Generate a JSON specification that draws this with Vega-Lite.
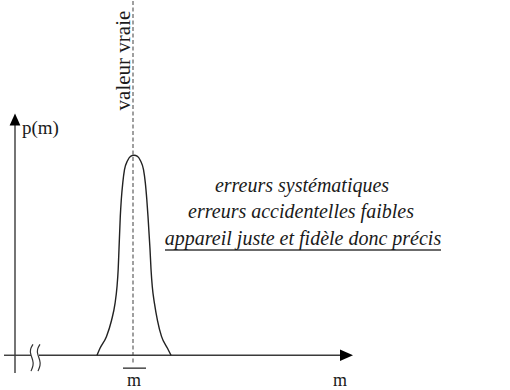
{
  "$schema": "https://vega.github.io/schema/vega-lite/v6.json",
  "width": 510,
  "height": 390,
  "padding": 0,
  "autosize": {"type": "fit", "contains": "padding"},
  "config": {"view": {"stroke": null}},
  "datasets": {
    "curve": [
      {"x": 97, "y": 33}, {"x": 100, "y": 40}, {"x": 106.5, "y": 52}, {"x": 111.5, "y": 68},
      {"x": 115, "y": 85}, {"x": 117, "y": 102}, {"x": 118.2, "y": 120}, {"x": 119, "y": 140},
      {"x": 120.3, "y": 173}, {"x": 121.3, "y": 190}, {"x": 122.8, "y": 207}, {"x": 124.5, "y": 220},
      {"x": 127.5, "y": 229}, {"x": 130.5, "y": 233.5}, {"x": 134, "y": 234.5},
      {"x": 137.5, "y": 233.5}, {"x": 140.5, "y": 229}, {"x": 143.5, "y": 220}, {"x": 145.3, "y": 207},
      {"x": 146.8, "y": 190}, {"x": 148, "y": 173}, {"x": 150, "y": 140}, {"x": 151, "y": 120},
      {"x": 152.3, "y": 102}, {"x": 154.5, "y": 85}, {"x": 157.5, "y": 68}, {"x": 161.5, "y": 52},
      {"x": 167.5, "y": 40}, {"x": 171, "y": 33}
    ],
    "axes": [
      {"x": 4, "y": 33, "x2": 31, "y2": 33},
      {"x": 39, "y": 33, "x2": 341, "y2": 33},
      {"x": 15, "y": 15, "x2": 15, "y2": 265},
      {"x": 123, "y": 20, "x2": 146, "y2": 20},
      {"x": 165, "y": 139, "x2": 441, "y2": 139}
    ],
    "dash": [
      {"x": 133, "y": 390, "x2": 133, "y2": 25}
    ],
    "arrows": [
      {"x": 346.5, "y": 33, "dir": "right"},
      {"x": 15, "y": 270.5, "dir": "up"}
    ],
    "breaks": [
      {"k": "a", "i": 0, "x": 33, "y": 44}, {"k": "a", "i": 1, "x": 30, "y": 39}, {"k": "a", "i": 2, "x": 30.5, "y": 34},
      {"k": "a", "i": 3, "x": 33, "y": 28}, {"k": "a", "i": 4, "x": 33.5, "y": 23}, {"k": "a", "i": 5, "x": 31, "y": 17},
      {"k": "b", "i": 0, "x": 40, "y": 44}, {"k": "b", "i": 1, "x": 37, "y": 39}, {"k": "b", "i": 2, "x": 37.5, "y": 34},
      {"k": "b", "i": 3, "x": 40, "y": 28}, {"k": "b", "i": 4, "x": 40.5, "y": 23}, {"k": "b", "i": 5, "x": 38, "y": 17}
    ],
    "labels": [
      {"x": 22, "y": 262, "t": "p(m)"},
      {"x": 134, "y": 7, "t": "m"},
      {"x": 340, "y": 7, "t": "m"}
    ],
    "notes": [
      {"x": 302, "y": 204, "t": "erreurs systématiques"},
      {"x": 301, "y": 177, "t": "erreurs accidentelles faibles"},
      {"x": 303, "y": 150, "t": "appareil juste et fidèle donc précis"}
    ],
    "vert": [
      {"x": 124, "y": 330, "t": "valeur vraie"}
    ]
  },
  "encoding": {
    "x": {"field": "x", "type": "quantitative", "scale": {"domain": [0, 510], "nice": false, "zero": false}, "axis": null},
    "y": {"field": "y", "type": "quantitative", "scale": {"domain": [0, 390], "nice": false, "zero": false}, "axis": null}
  },
  "layer": [
    {
      "data": {"name": "dash"},
      "mark": {"type": "rule", "color": "#808080", "strokeWidth": 1.5, "strokeDash": [4, 2.5]},
      "encoding": {"x2": {"field": "x2"}, "y2": {"field": "y2"}}
    },
    {
      "data": {"name": "axes"},
      "mark": {"type": "rule", "color": "#3a3a3a", "strokeWidth": 1.4},
      "encoding": {"x2": {"field": "x2"}, "y2": {"field": "y2"}}
    },
    {
      "data": {"name": "curve"},
      "mark": {"type": "line", "color": "#222222", "strokeWidth": 1.4, "interpolate": "monotone"},
      "encoding": {}
    },
    {
      "data": {"name": "breaks"},
      "mark": {"type": "line", "color": "#333333", "strokeWidth": 1.2, "interpolate": "basis"},
      "encoding": {"detail": {"field": "k"}, "order": {"field": "i"}}
    },
    {
      "data": {"name": "arrows"},
      "transform": [{"filter": "datum.dir == 'right'"}],
      "mark": {"type": "point", "shape": "M -1 -0.9 L 1 0 L -1 0.9 Z", "size": 169, "filled": true, "color": "#000000", "opacity": 1, "strokeWidth": 0}
    },
    {
      "data": {"name": "arrows"},
      "transform": [{"filter": "datum.dir == 'up'"}],
      "mark": {"type": "point", "shape": "M -0.9 1 L 0 -1 L 0.9 1 Z", "size": 144, "filled": true, "color": "#000000", "opacity": 1, "strokeWidth": 0}
    },
    {
      "data": {"name": "labels"},
      "mark": {"type": "text", "font": "Liberation Serif", "fontSize": 19, "color": "#1a1a1a", "align": "left", "baseline": "middle"},
      "encoding": {"text": {"field": "t"}},
      "transform": [{"filter": "datum.t == 'p(m)'"}]
    },
    {
      "data": {"name": "labels"},
      "mark": {"type": "text", "font": "Liberation Serif", "fontSize": 18, "color": "#1a1a1a", "align": "center", "baseline": "middle"},
      "encoding": {"text": {"field": "t"}},
      "transform": [{"filter": "datum.t == 'm'"}]
    },
    {
      "data": {"name": "vert"},
      "mark": {"type": "text", "font": "Liberation Serif", "fontSize": 21, "color": "#1a1a1a", "align": "center", "baseline": "middle", "angle": 270},
      "encoding": {"text": {"field": "t"}}
    },
    {
      "data": {"name": "notes"},
      "mark": {"type": "text", "font": "Liberation Serif", "fontSize": 20, "fontStyle": "italic", "color": "#1a1a1a", "align": "center", "baseline": "middle"},
      "encoding": {"text": {"field": "t"}}
    }
  ]
}
